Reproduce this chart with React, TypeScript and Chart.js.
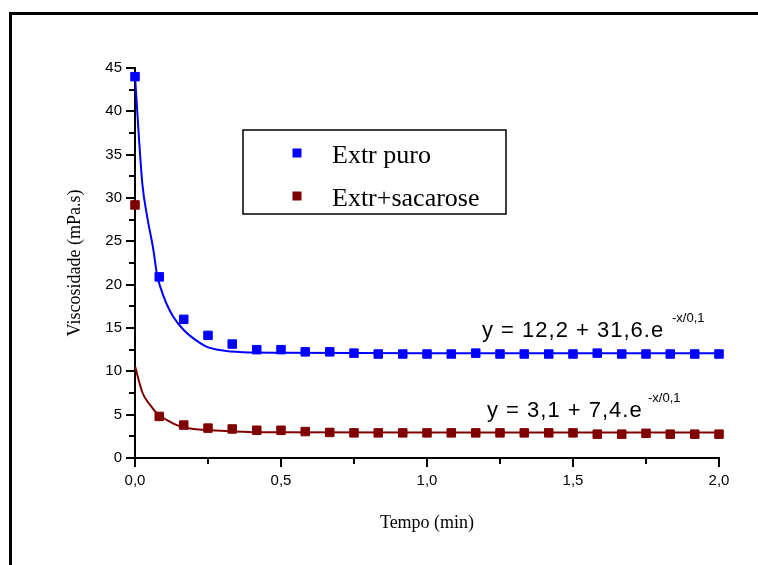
import { useEffect, useRef } from 'react';
import { Chart, registerables } from 'chart.js';

Chart.register(...registerables);

// ---- data ----
const timeMin = [0, 0.083, 0.167, 0.25, 0.333, 0.417, 0.5, 0.583, 0.667, 0.75, 0.833, 0.917, 1.0, 1.083, 1.167, 1.25, 1.333, 1.417, 1.5, 1.583, 1.667, 1.75, 1.833, 1.917, 2.0];
const extrPuro = [44.0, 20.9, 16.0, 14.15, 13.15, 12.5, 12.5, 12.25, 12.25, 12.1, 12.0, 12.0, 12.0, 12.0, 12.1, 12.0, 12.0, 12.0, 12.0, 12.1, 12.0, 12.0, 12.0, 12.0, 12.0];
const extrSacarose = [29.2, 4.8, 3.8, 3.45, 3.35, 3.2, 3.2, 3.05, 2.95, 2.9, 2.9, 2.9, 2.9, 2.9, 2.9, 2.9, 2.9, 2.9, 2.9, 2.75, 2.75, 2.85, 2.75, 2.75, 2.75];

// fitted curves
const fitPuroX = [0, 0.025, 0.042, 0.063, 0.075, 0.086, 0.108, 0.131, 0.166, 0.2, 0.245, 0.29, 0.37, 0.5, 1.0, 1.5, 2.0];
const fitPuroY = [44.0, 31.7, 27.8, 24.0, 21.2, 19.8, 17.8, 16.3, 14.8, 13.8, 12.85, 12.45, 12.2, 12.15, 12.1, 12.1, 12.1];
const fitSacX = [0, 0.026, 0.051, 0.074, 0.108, 0.154, 0.2, 0.257, 0.336, 0.45, 1.0, 1.5, 2.0];
const fitSacY = [10.6, 7.5, 6.15, 5.2, 4.4, 3.65, 3.35, 3.2, 3.07, 2.97, 2.95, 2.95, 2.95];

const xTickLabels = ['0,0', '0,5', '1,0', '1,5', '2,0'];
const yTickLabels = ['0', '5', '10', '15', '20', '25', '30', '35', '40', '45'];

const seriesNames = ['Extr puro', 'Extr+sacarose'];
const equationMain = ['y = 12,2 + 31,6.e', 'y = 3,1 + 7,4.e'];
const equationExp = ['-x/0,1', '-x/0,1'];

const BLUE = '#0000ff';
const RED = '#800000';

const pts = (xs: number[], ys: number[]) => xs.map((x, i) => ({ x, y: ys[i] }));

const xLabel = (v: number) => {
  const k = Math.round(v * 2);
  return Math.abs(v * 2 - k) < 1e-6 ? xTickLabels[k] : '';
};
const yLabel = (v: number) => {
  const k = Math.round(v / 5);
  return Math.abs(v / 5 - k) < 1e-6 ? yTickLabels[k] : '';
};

const decorPlugin = {
  id: 'decor',
  beforeDraw(chart: any) {
    const ctx = chart.ctx;
    ctx.save();
    ctx.fillStyle = '#ffffff';
    ctx.fillRect(0, 0, chart.width, chart.height);
    ctx.lineWidth = 3;
    ctx.strokeStyle = '#000';
    ctx.strokeRect(10.5, 13.5, 900, 700);
    ctx.restore();
  },
  afterDraw(chart: any) {
    const ctx = chart.ctx;
    const xs = chart.scales.x;
    const ys = chart.scales.y;
    ctx.save();
    ctx.strokeStyle = '#000';
    ctx.lineWidth = 2;
    // x ticks (outward, down)
    xs.ticks.forEach((t: any) => {
      const px = Math.round(xs.getPixelForValue(t.value));
      const len = xLabel(t.value) ? 9 : 6;
      ctx.beginPath();
      ctx.moveTo(px, xs.top);
      ctx.lineTo(px, xs.top + len);
      ctx.stroke();
    });
    // y ticks (outward, left)
    ys.ticks.forEach((t: any) => {
      const py = Math.round(ys.getPixelForValue(t.value));
      const len = yLabel(t.value) ? 9 : 6;
      ctx.beginPath();
      ctx.moveTo(ys.right, py);
      ctx.lineTo(ys.right - len, py);
      ctx.stroke();
    });

    // legend box
    ctx.lineWidth = 1.5;
    ctx.strokeRect(243, 130, 263, 84);
    const colors = [BLUE, RED];
    const rows = [153, 196];
    ctx.font = '26px "Liberation Serif", "Times New Roman", serif';
    ctx.textBaseline = 'alphabetic';
    ctx.textAlign = 'left';
    seriesNames.forEach((name, i) => {
      ctx.fillStyle = colors[i];
      ctx.fillRect(297 - 4.5, rows[i] - 4.5, 9, 9);
      ctx.fillStyle = '#000';
      ctx.fillText(name, 332, rows[i] + 10);
    });

    // equations
    const eqPos = [
      { x: 482, y: 337, ex: 672, ey: 322 },
      { x: 487, y: 417, ex: 648, ey: 402 },
    ];
    eqPos.forEach((p, i) => {
      ctx.fillStyle = '#000';
      ctx.font = '22px "Liberation Sans", Arial, sans-serif';
      (ctx as any).letterSpacing = '1px';
      ctx.fillText(equationMain[i], p.x, p.y);
      (ctx as any).letterSpacing = '0px';
      ctx.font = '13px "Liberation Sans", Arial, sans-serif';
      ctx.fillText(equationExp[i], p.ex, p.ey);
    });
    ctx.restore();
  },
};

export default function App() {
  const canvasRef = useRef<HTMLCanvasElement | null>(null);

  useEffect(() => {
    const canvas = canvasRef.current;
    if (!canvas) return;
    const chart = new Chart(canvas, {
      type: 'line',
      data: {
        datasets: [
          {
            label: seriesNames[0],
            data: pts(timeMin, extrPuro),
            showLine: false,
            pointStyle: 'rect',
            pointRadius: 6,
            backgroundColor: BLUE,
            borderColor: BLUE,
            pointBorderWidth: 1,
            clip: false as any,
          },
          {
            label: seriesNames[1],
            data: pts(timeMin, extrSacarose),
            showLine: false,
            pointStyle: 'rect',
            pointRadius: 6,
            backgroundColor: RED,
            borderColor: RED,
            pointBorderWidth: 1,
            clip: false as any,
          },
          {
            label: 'fit puro',
            data: pts(fitPuroX, fitPuroY),
            borderColor: BLUE,
            borderWidth: 2,
            pointRadius: 0,
            cubicInterpolationMode: 'monotone',
            fill: false,
          },
          {
            label: 'fit sacarose',
            data: pts(fitSacX, fitSacY),
            borderColor: RED,
            borderWidth: 2,
            pointRadius: 0,
            cubicInterpolationMode: 'monotone',
            fill: false,
          },
        ],
      },
      options: {
        responsive: false,
        devicePixelRatio: 1,
        animation: false,
        events: [],
        layout: { padding: { left: 0, top: 68, right: 39, bottom: 0 } },
        plugins: {
          legend: { display: false },
          tooltip: { enabled: false },
          title: { display: false },
        },
        scales: {
          x: {
            type: 'linear',
            min: 0,
            max: 2,
            afterFit: (s: any) => {
              s.height = 107;
            },
            border: { display: true, color: '#000', width: 2 },
            grid: {
              display: true,
              drawOnChartArea: false,
              drawTicks: true,
              tickLength: 9,
              tickColor: 'rgba(0,0,0,0)',
            },
            ticks: {
              stepSize: 0.25,
              autoSkip: false,
              maxRotation: 0,
              padding: 5,
              color: '#000',
              font: { family: '"Liberation Sans", Arial, sans-serif', size: 15 },
              callback: (v: any) => xLabel(Number(v)),
            },
            title: {
              display: true,
              text: 'Tempo (min)',
              color: '#000',
              font: { family: '"Liberation Serif", "Times New Roman", serif', size: 18 },
              padding: { top: 0, bottom: 31 },
            },
          },
          y: {
            type: 'linear',
            min: 0,
            max: 45,
            afterFit: (s: any) => {
              s.width = 135;
            },
            border: { display: true, color: '#000', width: 2 },
            grid: {
              display: true,
              drawOnChartArea: false,
              drawTicks: true,
              tickLength: 9,
              tickColor: 'rgba(0,0,0,0)',
            },
            ticks: {
              stepSize: 2.5,
              autoSkip: false,
              padding: 4,
              color: '#000',
              font: { family: '"Liberation Sans", Arial, sans-serif', size: 15 },
              callback: (v: any) => yLabel(Number(v)),
            },
            title: {
              display: true,
              text: 'Viscosidade (mPa.s)',
              color: '#000',
              font: { family: '"Liberation Serif", "Times New Roman", serif', size: 18 },
              padding: { top: 64, bottom: 0 },
            },
          },
        },
      },
      plugins: [decorPlugin],
    } as any);
    return () => chart.destroy();
  }, []);

  return (
    <div style={{ position: 'fixed', left: 0, top: 0, width: 758, height: 565, background: '#fff' }}>
      <canvas ref={canvasRef} width={758} height={565} style={{ display: 'block' }} />
    </div>
  );
}
